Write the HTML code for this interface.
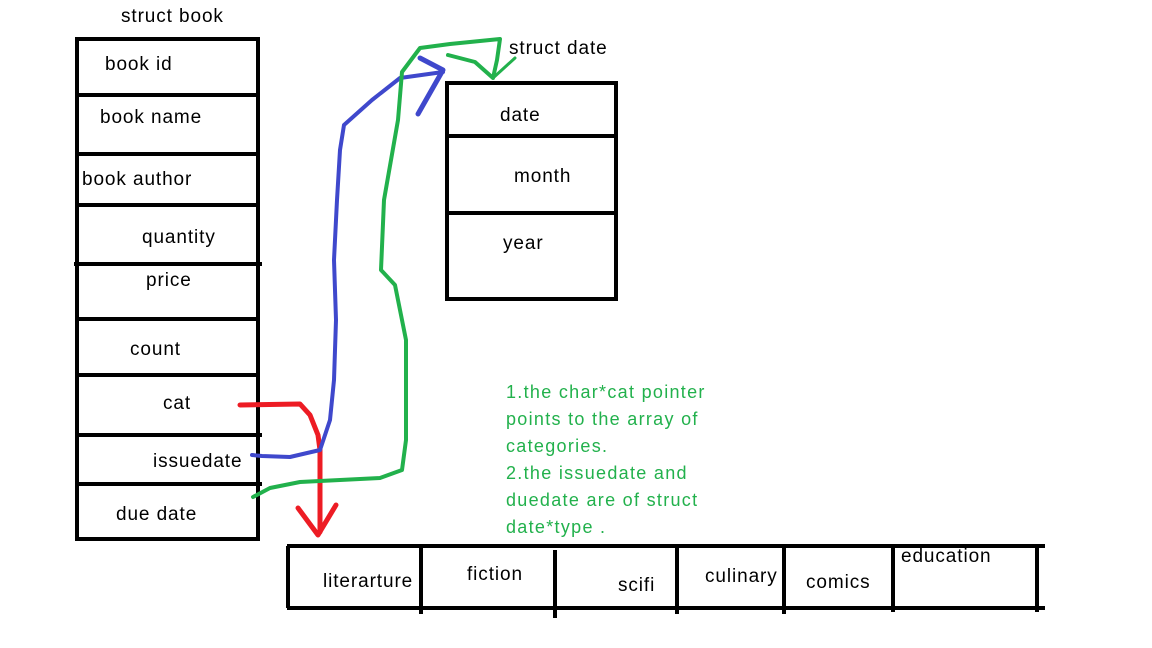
<!DOCTYPE html>
<html><head><meta charset="utf-8"><style>
html,body{margin:0;padding:0;background:#fff;}
svg{display:block}
text{font-family:"Liberation Sans",sans-serif;font-size:19px;letter-spacing:0.9px;fill:#000}
.g{fill:#22b14c;font-size:18px;letter-spacing:1.3px}
</style></head><body>
<svg width="1152" height="648" viewBox="0 0 1152 648" xmlns="http://www.w3.org/2000/svg">
<g stroke="#000" stroke-width="4" fill="none">
<rect x="77" y="39" width="181" height="500"/>
<line x1="77" y1="95" x2="260" y2="95"/>
<line x1="77" y1="154" x2="258" y2="154"/>
<line x1="77" y1="205" x2="260" y2="205"/>
<line x1="74" y1="264" x2="262" y2="264"/>
<line x1="77" y1="319" x2="258" y2="319"/>
<line x1="77" y1="375" x2="260" y2="375"/>
<line x1="77" y1="435" x2="262" y2="435"/>
<line x1="77" y1="484" x2="262" y2="484"/>
<rect x="447" y="83" width="169" height="216"/>
<line x1="447" y1="136" x2="618" y2="136"/>
<line x1="447" y1="213" x2="618" y2="213"/>
<line x1="287" y1="546" x2="1045" y2="546"/>
<line x1="287" y1="608" x2="1045" y2="608"/>
<line x1="288" y1="546" x2="288" y2="608"/>
<line x1="421" y1="546" x2="421" y2="614"/>
<line x1="555" y1="550" x2="555" y2="618"/>
<line x1="677" y1="546" x2="677" y2="614"/>
<line x1="784" y1="546" x2="784" y2="614"/>
<line x1="893" y1="546" x2="893" y2="612"/>
<line x1="1037" y1="546" x2="1037" y2="612"/>
</g>
<g fill="none" stroke-linecap="round" stroke-linejoin="round">
<path d="M240 405 L300 404 L310 415 L318 435 L320 450 L320 532" stroke="#ed1c24" stroke-width="5"/>
<path d="M298 508 L318 535 L336 505" stroke="#ed1c24" stroke-width="5"/>
<path d="M252 455 L262 456 L290 457 L320 450 L330 420 L334 380 L336 320 L334 260 L337 200 L340 150 L344 125 L372 100 L400 78 L443 72" stroke="#3f48cc" stroke-width="4"/>
<path d="M420 58 L443 70 L418 114" stroke="#3f48cc" stroke-width="5"/>
<path d="M253 497 L270 488 L300 482 L340 480 L380 478 L402 470 L406 440 L406 340 L398 300 L395 285 L381 270 L384 200 L398 120 L402 72 L420 48 L450 44 L500 39 L497 60 L493 78 L475 62 L448 55" stroke="#22b14c" stroke-width="4"/>
<path d="M493 78 L515 58" stroke="#22b14c" stroke-width="3"/>
</g>
<text x="121" y="22">struct book</text>
<text x="105" y="70">book id</text>
<text x="100" y="123">book name</text>
<text x="82" y="185">book author</text>
<text x="142" y="243">quantity</text>
<text x="146" y="286">price</text>
<text x="130" y="355">count</text>
<text x="163" y="409">cat</text>
<text x="153" y="467">issuedate</text>
<text x="116" y="520">due date</text>
<text x="509" y="54">struct date</text>
<text x="500" y="121">date</text>
<text x="514" y="182">month</text>
<text x="503" y="249">year</text>
<text x="323" y="587">literarture</text>
<text x="467" y="580">fiction</text>
<text x="618" y="591">scifi</text>
<text x="705" y="582">culinary</text>
<text x="806" y="588">comics</text>
<text x="901" y="562">education</text>
<text class="g" x="506" y="398">1.the char*cat pointer</text>
<text class="g" x="506" y="425">points to the array of</text>
<text class="g" x="506" y="452">categories.</text>
<text class="g" x="506" y="479">2.the issuedate and</text>
<text class="g" x="506" y="506">duedate are of struct</text>
<text class="g" x="506" y="533">date*type .</text>
</svg>
</body></html>
